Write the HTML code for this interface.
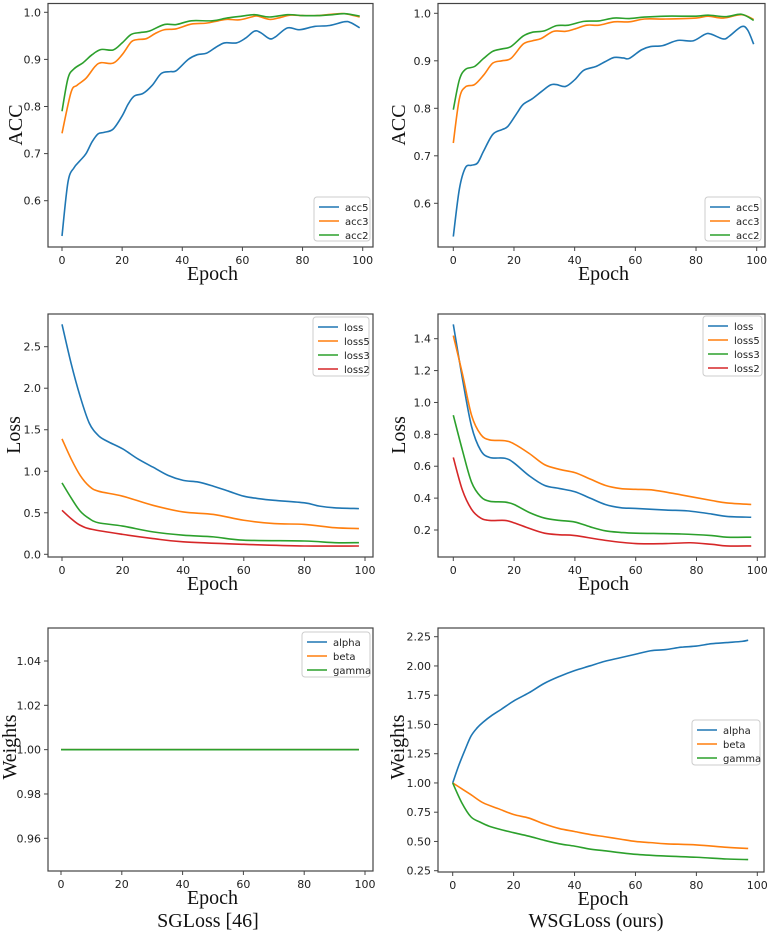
<!DOCTYPE html>
<html><head><meta charset="utf-8">
<style>
html,body{margin:0;padding:0;background:#fff;}
svg{display:block;}
.tk{font-family:"DejaVu Sans","Liberation Sans",sans-serif;font-size:11px;fill:#222;}
.lg{font-family:"DejaVu Sans","Liberation Sans",sans-serif;font-size:10px;fill:#222;}
.ax{font-family:"Liberation Serif",serif;font-size:20px;fill:#111;}
.cap{font-family:"Liberation Serif",serif;font-size:20px;fill:#111;}
</style></head>
<body>
<svg id="fig" width="771" height="935" viewBox="0 0 771 935" xmlns="http://www.w3.org/2000/svg">
<text class="cap" x="208" y="927" text-anchor="middle">SGLoss [46]</text>
<text class="cap" x="596" y="927" text-anchor="middle">WSGLoss (ours)</text>
</svg>
<script>
// ---------- data ----------
const xTicks = [0,20,40,60,80,100];
const accTicks = [0.6,0.7,0.8,0.9,1.0];
const lossTicksL = [0.0,0.5,1.0,1.5,2.0,2.5];
const lossTicksR = [0.2,0.4,0.6,0.8,1.0,1.2,1.4];
const wTicksL = [0.96,0.98,1.00,1.02,1.04];
const wTicksR = [0.25,0.50,0.75,1.00,1.25,1.50,1.75,2.00,2.25];

const accNames = ["acc5","acc3","acc2"];
const lossNames = ["loss","loss5","loss3","loss2"];
const wNames = ["alpha","beta","gamma"];

// SGLoss accuracy
const sgAcc5X = [0,2,4,6,8,10,12,14,17,20,22,24,27,30,33,36,38,42,45,48,51,54,58,61,64,66,69,71,75,79,84,89,94,96,99];
const sgAcc5Y = [0.525,0.64,0.67,0.685,0.70,0.725,0.742,0.745,0.752,0.78,0.805,0.822,0.828,0.845,0.87,0.874,0.876,0.90,0.91,0.913,0.925,0.935,0.935,0.945,0.96,0.957,0.944,0.948,0.967,0.963,0.97,0.972,0.98,0.978,0.967];
const sgAcc3X = [0,3,5,8,11,13,17,20,23,25,28,31,34,38,43,48,52,55,59,63,65,69,72,76,80,85,90,94,99];
const sgAcc3Y = [0.743,0.83,0.845,0.86,0.885,0.893,0.892,0.91,0.937,0.942,0.944,0.955,0.963,0.965,0.975,0.977,0.982,0.985,0.984,0.99,0.992,0.985,0.988,0.994,0.993,0.993,0.996,0.997,0.99];
const sgAcc2X = [0,2,4,7,10,13,17,20,23,26,29,34,38,43,50,55,60,64,69,75,80,85,90,94,99];
const sgAcc2Y = [0.79,0.86,0.88,0.893,0.91,0.921,0.92,0.935,0.953,0.957,0.96,0.974,0.974,0.982,0.982,0.988,0.992,0.995,0.99,0.995,0.993,0.993,0.995,0.997,0.992];
// WSGLoss accuracy
const wsAcc5X = [0,2,4,6,8,10,13,16,18,21,23,26,29,32,34,37,40,43,47,50,53,56,58,62,65,69,74,79,83,85,89,91,95,97,99];
const wsAcc5Y = [0.53,0.63,0.675,0.68,0.685,0.71,0.745,0.755,0.762,0.79,0.808,0.82,0.835,0.849,0.85,0.846,0.86,0.88,0.888,0.898,0.907,0.906,0.905,0.923,0.93,0.932,0.943,0.942,0.956,0.956,0.946,0.952,0.972,0.965,0.935];
const wsAcc3X = [0,2,4,7,10,13,16,19,23,26,29,33,37,40,44,48,53,58,63,70,80,84,89,95,99];
const wsAcc3Y = [0.727,0.82,0.845,0.85,0.87,0.895,0.9,0.905,0.935,0.942,0.947,0.962,0.962,0.967,0.975,0.975,0.982,0.982,0.988,0.988,0.99,0.994,0.99,0.997,0.987];
const wsAcc2X = [0,2,4,7,10,13,16,19,23,26,30,34,38,43,48,53,58,63,70,80,84,90,95,99];
const wsAcc2Y = [0.797,0.86,0.882,0.888,0.905,0.92,0.925,0.93,0.952,0.96,0.963,0.974,0.975,0.983,0.984,0.99,0.989,0.992,0.994,0.994,0.996,0.993,0.998,0.985];
// SGLoss loss
const sgLossX = [0,3,6,9,12,15,20,25,30,35,40,45,50,55,60,65,70,80,85,90,98];
const sgLossY = [2.77,2.3,1.9,1.58,1.43,1.36,1.27,1.15,1.05,0.95,0.89,0.87,0.82,0.76,0.70,0.67,0.65,0.62,0.58,0.56,0.55];
const sgLoss5X = [0,3,6,9,12,20,30,40,50,60,70,80,90,98];
const sgLoss5Y = [1.39,1.15,0.95,0.82,0.76,0.70,0.59,0.51,0.48,0.41,0.37,0.36,0.32,0.31];
const sgLoss3X = [0,3,6,9,12,20,30,40,50,60,80,90,98];
const sgLoss3Y = [0.86,0.68,0.52,0.43,0.38,0.34,0.27,0.23,0.21,0.17,0.16,0.14,0.14];
const sgLoss2X = [0,3,6,10,20,30,40,60,80,98];
const sgLoss2Y = [0.53,0.43,0.35,0.30,0.24,0.19,0.15,0.12,0.10,0.10];
// WSGLoss loss
const wsLossX = [0,3,6,9,12,17,20,25,30,35,40,45,50,55,60,70,77,85,90,98];
const wsLossY = [1.49,1.15,0.85,0.70,0.655,0.65,0.62,0.54,0.48,0.46,0.44,0.40,0.36,0.34,0.335,0.325,0.32,0.30,0.285,0.28];
const wsLoss5X = [0,3,6,9,12,17,20,25,30,35,40,45,50,55,60,66,75,85,90,98];
const wsLoss5Y = [1.42,1.18,0.92,0.80,0.765,0.76,0.74,0.68,0.61,0.58,0.56,0.52,0.48,0.46,0.455,0.45,0.42,0.385,0.37,0.36];
const wsLoss3X = [0,3,6,9,12,17,20,25,30,35,40,45,50,55,60,75,85,90,98];
const wsLoss3Y = [0.92,0.70,0.50,0.41,0.38,0.375,0.36,0.31,0.275,0.26,0.25,0.22,0.195,0.185,0.18,0.175,0.165,0.155,0.155];
const wsLoss2X = [0,3,6,9,12,17,20,25,30,35,40,50,60,70,78,85,90,98];
const wsLoss2Y = [0.655,0.45,0.33,0.275,0.26,0.26,0.245,0.21,0.18,0.17,0.165,0.135,0.115,0.115,0.12,0.11,0.10,0.10];
// SGLoss weights (constant)
const sgWX = [0,98];
const sgAlphaY = [1.0,1.0];
const sgBetaY = [1.0,1.0];
const sgGammaY = [1.0,1.0];
// WSGLoss weights
const wsAlphaX = [0,2,4,6,8,10,13,16,20,25,30,35,40,45,50,55,60,65,70,75,80,85,90,95,97];
const wsAlphaY = [1.0,1.15,1.28,1.4,1.47,1.52,1.58,1.63,1.70,1.77,1.85,1.91,1.96,2.0,2.04,2.07,2.10,2.13,2.14,2.16,2.17,2.19,2.20,2.21,2.22];
const wsBetaX = [0,3,6,10,15,20,25,30,35,40,45,50,55,60,65,70,80,90,97];
const wsBetaY = [1.0,0.95,0.90,0.83,0.78,0.73,0.70,0.65,0.61,0.585,0.56,0.54,0.52,0.50,0.49,0.48,0.47,0.45,0.44];
const wsGammaX = [0,3,6,9,12,16,20,25,30,35,40,45,50,60,70,80,90,97];
const wsGammaY = [1.0,0.83,0.71,0.665,0.63,0.60,0.575,0.545,0.51,0.48,0.46,0.435,0.42,0.39,0.375,0.365,0.35,0.345];

const COLORS = ["#1f77b4","#ff7f0e","#2ca02c","#d62728"];
const NS = "http://www.w3.org/2000/svg";
const fig = document.getElementById("fig");

function mk(tag, attrs, parent){
  const e = document.createElementNS(NS, tag);
  for (const k in attrs) e.setAttribute(k, attrs[k]);
  (parent||fig).appendChild(e);
  return e;
}
function smoothPath(pts){
  if (pts.length < 3) return "M"+pts.map(p=>p[0].toFixed(2)+","+p[1].toFixed(2)).join("L");
  let d = "M"+pts[0][0].toFixed(2)+","+pts[0][1].toFixed(2);
  for (let i=0;i<pts.length-1;i++){
    const p0=pts[Math.max(0,i-1)], p1=pts[i], p2=pts[i+1], p3=pts[Math.min(pts.length-1,i+2)];
    const c1=[p1[0]+(p2[0]-p0[0])/6, p1[1]+(p2[1]-p0[1])/6];
    const c2=[p2[0]-(p3[0]-p1[0])/6, p2[1]-(p3[1]-p1[1])/6];
    d += "C"+c1[0].toFixed(2)+","+c1[1].toFixed(2)+" "+c2[0].toFixed(2)+","+c2[1].toFixed(2)+" "+p2[0].toFixed(2)+","+p2[1].toFixed(2);
  }
  return d;
}

function panel(cfg){
  const g = mk("g",{});
  
  
  const xs = v => cfg.x0px + (v-0)*(cfg.x100px-cfg.x0px)/100;
  const ys = v => cfg.ya[1] + (v-cfg.ya[0])*(cfg.yb[1]-cfg.ya[1])/(cfg.yb[0]-cfg.ya[0]);
  const b = cfg.box;
  cfg.series.forEach((s,i)=>{
    const pts = s.x.map((xv,j)=>[xs(xv), ys(s.y[j])]);
    const p = mk("path",{d:smoothPath(pts), fill:"none", stroke:COLORS[i], "stroke-width":1.6, "stroke-linejoin":"round"}, g);
    
    
  });
  const fr = mk("rect",{x:b[0], y:b[1], width:b[2]-b[0], height:b[3]-b[1], fill:"none", stroke:"#444", "stroke-width":1.2}, g);
  
  
  xTicks.forEach(t=>{
    const x = xs(t);
    mk("line",{x1:x,y1:b[3],x2:x,y2:b[3]+4,stroke:"#444","stroke-width":1}, g);
    const tx = mk("text",{x:x,y:b[3]+17,"text-anchor":"middle",class:"tk"}, g);
    tx.textContent = String(t);
    
    
  });
  cfg.yTicks.forEach(t=>{
    const y = ys(t);
    mk("line",{x1:b[0]-4,y1:y,x2:b[0],y2:y,stroke:"#444","stroke-width":1}, g);
    const tx = mk("text",{x:b[0]-7,y:y+4,"text-anchor":"end",class:"tk"}, g);
    tx.textContent = t.toFixed(cfg.dec);
    
    
  });
  const xl = mk("text",{x:(b[0]+b[2])/2+2,y:b[3]+33,"text-anchor":"middle",class:"ax"}, g);
  xl.textContent = "Epoch";
  
  
  const yl = mk("text",{x:0,y:0,"text-anchor":"middle",class:"ax",transform:"translate("+cfg.ylx+","+cfg.yly+") rotate(-90)"}, g);
  yl.textContent = cfg.ylabel;
  
  
  const L = cfg.leg;
  const lg = mk("g",{}, g);
  
  
  mk("rect",{x:L[0],y:L[1],width:L[2],height:L[3],rx:3,fill:"#fff",stroke:"#ccc","stroke-width":1}, lg);
  cfg.series.forEach((s,i)=>{
    const yy = L[1]+10+i*14;
    mk("line",{x1:L[0]+5,y1:yy,x2:L[0]+25,y2:yy,stroke:COLORS[i],"stroke-width":1.6}, lg);
    const t = mk("text",{x:L[0]+31,y:yy+4,class:"lg"}, lg);
    t.textContent = s.n;
    
    
  });
}

panel({name:"sgloss-acc-chart", box:[48,3.5,373,247], x0px:62, x100px:362.7, ya:[1.0,12.3], yb:[0.6,200.7],
  yTicks:accTicks, dec:1, ylabel:"ACC", ylx:22, yly:125, leg:[314,197,56,44],
  series:[{n:accNames[0],x:sgAcc5X,y:sgAcc5Y},{n:accNames[1],x:sgAcc3X,y:sgAcc3Y},{n:accNames[2],x:sgAcc2X,y:sgAcc2Y}]});
panel({name:"wsgloss-acc-chart", box:[438,3.5,765,247], x0px:453.3, x100px:756.7, ya:[1.0,13.3], yb:[0.6,203.3],
  yTicks:accTicks, dec:1, ylabel:"ACC", ylx:405, yly:125, leg:[705,197,56,44],
  series:[{n:accNames[0],x:wsAcc5X,y:wsAcc5Y},{n:accNames[1],x:wsAcc3X,y:wsAcc3Y},{n:accNames[2],x:wsAcc2X,y:wsAcc2Y}]});
panel({name:"sgloss-loss-chart", box:[48,314,373,557], x0px:62, x100px:365, ya:[2.5,346.7], yb:[0.0,554.3],
  yTicks:lossTicksL, dec:1, ylabel:"Loss", ylx:20, yly:435, leg:[313,317,56,59],
  series:[{n:lossNames[0],x:sgLossX,y:sgLossY},{n:lossNames[1],x:sgLoss5X,y:sgLoss5Y},{n:lossNames[2],x:sgLoss3X,y:sgLoss3Y},{n:lossNames[3],x:sgLoss2X,y:sgLoss2Y}]});
panel({name:"wsgloss-loss-chart", box:[438,314,765,557], x0px:453.3, x100px:757.3, ya:[1.4,338.7], yb:[0.2,530],
  yTicks:lossTicksR, dec:1, ylabel:"Loss", ylx:405, yly:435, leg:[703,316,59,60],
  series:[{n:lossNames[0],x:wsLossX,y:wsLossY},{n:lossNames[1],x:wsLoss5X,y:wsLoss5Y},{n:lossNames[2],x:wsLoss3X,y:wsLoss3Y},{n:lossNames[3],x:wsLoss2X,y:wsLoss2Y}]});
panel({name:"sgloss-weights-chart", box:[48,628,373,871], x0px:61, x100px:365, ya:[1.04,661], yb:[0.96,838.3],
  yTicks:wTicksL, dec:2, ylabel:"Weights", ylx:16, yly:747, leg:[302,632,68,45],
  series:[{n:wNames[0],x:sgWX,y:sgAlphaY},{n:wNames[1],x:sgWX,y:sgBetaY},{n:wNames[2],x:sgWX,y:sgGammaY}]});
panel({name:"wsgloss-weights-chart", box:[438,628,764,872], x0px:452.7, x100px:757.3, ya:[2.25,636.7], yb:[0.25,870.7],
  yTicks:wTicksR, dec:2, ylabel:"Weights", ylx:404, yly:747, leg:[692,720,68,45],
  series:[{n:wNames[0],x:wsAlphaX,y:wsAlphaY},{n:wNames[1],x:wsBetaX,y:wsBetaY},{n:wNames[2],x:wsGammaX,y:wsGammaY}]});
</script>
</body></html>
